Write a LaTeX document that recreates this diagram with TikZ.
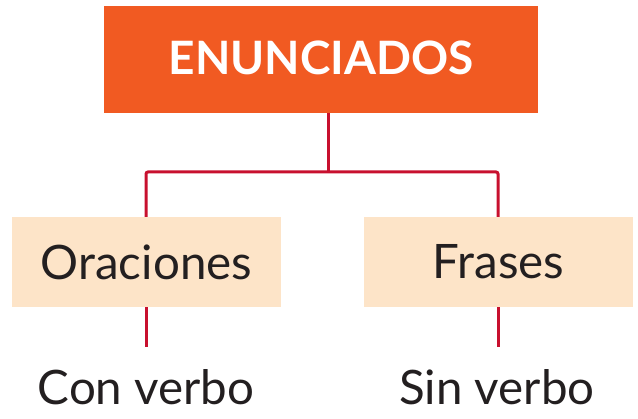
\documentclass[tikz,border=0pt]{standalone}
\usepackage{fontspec}
\setmainfont{Lato}
\definecolor{topor}{HTML}{F15A22}
\definecolor{linred}{HTML}{C8102E}
\definecolor{peach}{HTML}{FDE4C8}
\definecolor{txt}{HTML}{231F20}
\begin{document}
\begin{tikzpicture}[x=1pt,y=-1pt,
  topbox/.style={fill=topor,minimum width=434pt,minimum height=107pt,inner sep=0pt,text=white,font=\fontsize{46}{46}\selectfont\bfseries},
  subbox/.style={fill=peach,minimum width=269pt,minimum height=90pt,inner sep=0pt,text=txt,font=\fontsize{47.5}{47.5}\selectfont},
  leaf/.style={inner sep=0pt,text=txt,font=\fontsize{47.5}{47.5}\selectfont},
  conn/.style={draw=linred,line width=3pt,rounded corners=2pt}]
\useasboundingbox (0,0) rectangle (638,419);
\node[topbox] (top) at (321,59.5) {\raisebox{4.5pt}{ENUNCIADOS}};
\node[subbox] (ora) at (146.5,262) {Oraciones};
\node[subbox] (fra) at (498.5,262) {Frases};
\node[leaf,anchor=base] (con) at (146,405) {Con verbo};
\node[leaf,anchor=base] (sin) at (497,405) {Sin verbo};
\coordinate (j) at (328,172);
\coordinate (el) at (146,347);
\coordinate (er) at (498,347);
\draw[conn] (top.south -| j) -- (j);
\draw[conn] (ora.north -| el) |- (j) -| (fra.north -| er);
\draw[conn] (ora.south -| el) -- (el);
\draw[conn] (fra.south -| er) -- (er);
\end{tikzpicture}
\end{document}
